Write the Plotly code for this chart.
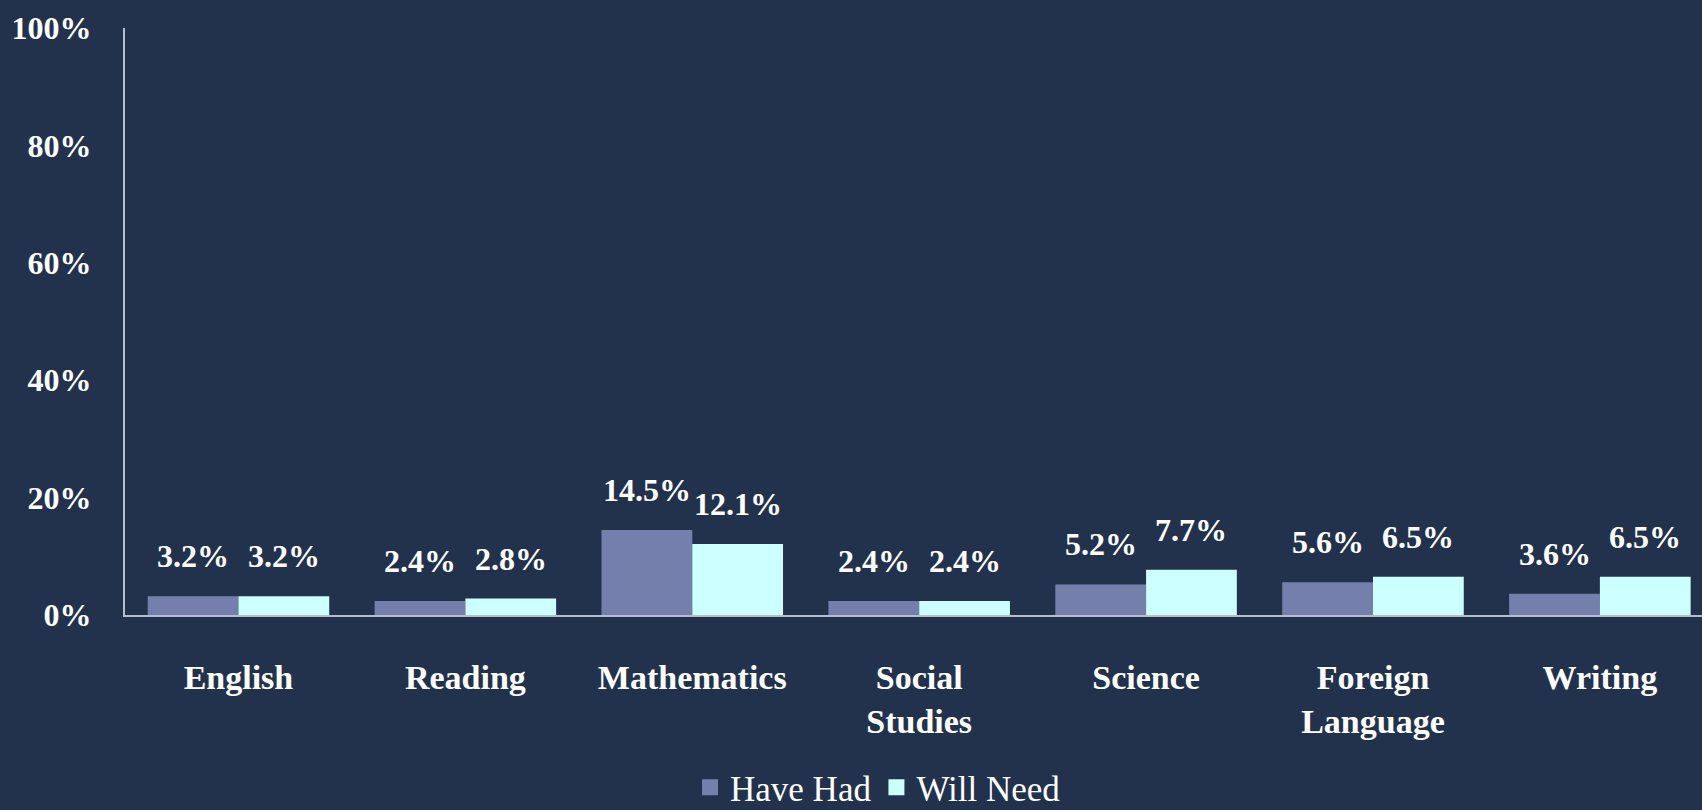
import plotly.graph_objects as go

categories = ["English", "Reading", "Mathematics", "Social<br>Studies", "Science", "Foreign<br>Language", "Writing"]
have_had = [3.2, 2.4, 14.5, 2.4, 5.2, 5.6, 3.6]
will_need = [3.2, 2.8, 12.1, 2.4, 7.7, 6.5, 6.5]
series_names = ["Have Had", "Will Need"]
y_ticks = [0, 20, 40, 60, 80, 100]
y_tick_labels = [f"{v}%" for v in y_ticks]

BG = "#22324c"
C1 = "#7480ab"
C2 = "#ccffff"
FONT = "Liberation Serif"

idx = list(range(len(categories)))
fig = go.Figure()
for vals, name, col in ((have_had, series_names[0], C1), (will_need, series_names[1], C2)):
    fig.add_trace(go.Bar(x=idx, y=vals, name=name, showlegend=False,
                         marker=dict(color=col, line=dict(width=0))))
# legend entries with larger square swatches
for name, col in ((series_names[0], C1), (series_names[1], C2)):
    fig.add_trace(go.Scatter(x=[None], y=[None], mode="markers", name=name,
                             marker=dict(symbol="square", size=16, color=col)))

for vals, off in ((have_had, -0.2), (will_need, 0.2)):
    for i, v in zip(idx, vals):
        fig.add_annotation(x=i + off, y=v, xref="x", yref="y", text=f"{v:.1f}%",
                           showarrow=False, yanchor="middle", yshift=40,
                           font=dict(family=FONT, size=32, color="white", weight="bold"))

fig.update_layout(
    width=1702, height=810,
    paper_bgcolor=BG, plot_bgcolor=BG,
    margin=dict(l=125, r=0, t=28, b=195),
    barmode="group", bargap=0.2, bargroupgap=0,
    font=dict(family=FONT, color="white", size=30, weight="bold"),
    legend=dict(orientation="h", x=0.4775, xanchor="center",
                yref="container", y=0, yanchor="bottom",
                font=dict(family=FONT, size=35, color="white", weight="normal"),
                itemwidth=30, traceorder="normal", itemsizing="trace",
                bgcolor="rgba(0,0,0,0)"),
    xaxis=dict(tickmode="array", tickvals=idx, ticktext=categories, range=[-0.5, 6.45],
               showline=True, linecolor="#b8bfcc", linewidth=2, showgrid=False, zeroline=False,
               ticks="", ticklabelstandoff=31, tickfont=dict(size=34)),
    yaxis=dict(range=[0, 100], tickmode="array", tickvals=y_ticks, ticktext=y_tick_labels,
               showgrid=False, zeroline=False,
               showline=True, linecolor="#b8bfcc", linewidth=2, ticks="", ticklabelstandoff=25,
               tickfont=dict(size=32)),
)

post = """
document.body.style.margin='0';
document.body.style.background='#22324c';
var lg = document.querySelector('g.legend');
if (lg) {
  var t = lg.getAttribute('transform') || '';
  var m = /translate\\(([-\\d.]+)[ ,]+([-\\d.]+)\\)/.exec(t);
  if (m) { lg.setAttribute('transform', 'translate(' + m[1] + ',' + (parseFloat(m[2]) + 7) + ')'); }
}
"""
fig.write_html("out.html", config={"displayModeBar": False}, post_script=post)
